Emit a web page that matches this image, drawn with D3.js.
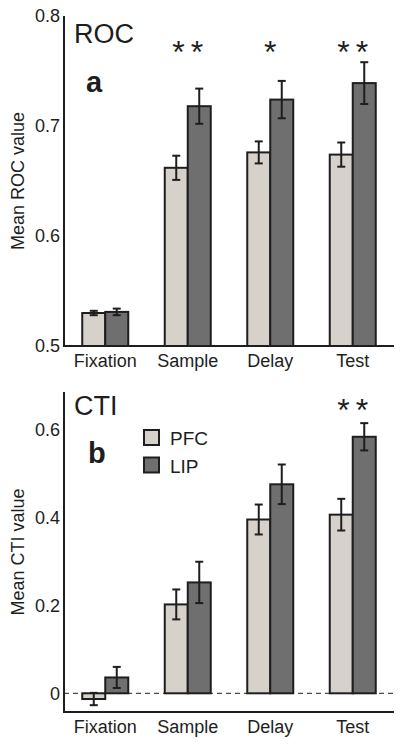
<!DOCTYPE html>
<html><head><meta charset="utf-8">
<script src="https://cdn.jsdelivr.net/npm/d3@7"></script>
<style>
html,body{margin:0;padding:0;background:#fff;}
svg{display:block;font-family:"Liberation Sans",Arial,sans-serif;}
</style></head>
<body>
<svg id="chart" width="417" height="750"></svg>
<script>
const categories = ['Fixation','Sample','Delay','Test'];
const series = ['PFC','LIP'];
const rocPFC = [0.530, 0.662, 0.676, 0.674];
const rocPFCErr = [0.002, 0.011, 0.010, 0.011];
const rocLIP = [0.531, 0.718, 0.724, 0.739];
const rocLIPErr = [0.003, 0.016, 0.017, 0.019];
const ctiPFC = [-0.013, 0.202, 0.395, 0.406];
const ctiPFCErr = [0.014, 0.034, 0.034, 0.036];
const ctiLIP = [0.036, 0.252, 0.475, 0.583];
const ctiLIPErr = [0.024, 0.047, 0.045, 0.031];
const rocTicks = [0.5, 0.6, 0.7, 0.8];
const rocTickLabels = ['0.5','0.6','0.7','0.8'];
const ctiTicks = [0, 0.2, 0.4, 0.6];
const ctiTickLabels = ['0','0.2','0.4','0.6'];
const rocStars = ['','**','*','**'];
const ctiStars = ['','','','**'];

const colors = {PFC:'#d6d1ca', LIP:'#6f6f6f'};
const ink = '#1e1e1e';
const svg = d3.select('#chart');

function panel(opt){
  const g = svg.append('g');
  const x = d3.scaleBand().domain(categories).range([64,394]).padding(0);
  const xs = d3.scaleBand().domain(series).range([-23,23]).padding(0);
  const y = d3.scaleLinear().domain(opt.yDomain).range(opt.yRange);
  const rows = [];
  categories.forEach((c,i)=>{
    rows.push({c, s:'PFC', v:opt.pfc[i], e:opt.pfcErr[i]});
    rows.push({c, s:'LIP', v:opt.lip[i], e:opt.lipErr[i]});
  });
  const cx = d => x(d.c) + x.bandwidth()/2 + xs(d.s);
  if(opt.zeroLine){
    g.append('line').attr('x1',64).attr('x2',394).attr('y1',y(0)).attr('y2',y(0))
      .attr('stroke',ink).attr('stroke-width',1).attr('stroke-dasharray','5,4');
  }
  g.selectAll('rect.bar').data(rows).enter().append('rect').attr('class','bar')
    .attr('x', d=>cx(d))
    .attr('width', xs.bandwidth())
    .attr('y', d=>Math.min(y(d.v), y(opt.base)))
    .attr('height', d=>Math.abs(y(d.v)-y(opt.base)))
    .attr('fill', d=>colors[d.s]).attr('stroke',ink).attr('stroke-width',2);
  const eb = g.selectAll('g.err').data(rows).enter().append('g').attr('class','err')
    .attr('stroke',ink).attr('stroke-width',2);
  const mx = d => cx(d)+xs.bandwidth()/2;
  eb.append('line').attr('x1',mx).attr('x2',mx)
    .attr('y1',d=>y(d.v-d.e)).attr('y2',d=>y(d.v+d.e));
  eb.append('line').attr('x1',d=>mx(d)-4).attr('x2',d=>mx(d)+4)
    .attr('y1',d=>y(d.v+d.e)).attr('y2',d=>y(d.v+d.e));
  eb.append('line').attr('x1',d=>mx(d)-4).attr('x2',d=>mx(d)+4)
    .attr('y1',d=>y(d.v-d.e)).attr('y2',d=>y(d.v-d.e));
  const yAxis = d3.axisLeft(y).tickValues(opt.ticks).tickFormat((d,i)=>opt.tickLabels[i]).tickSize(0).tickPadding(4);
  const ya = g.append('g').attr('transform','translate(64,0)').call(yAxis);
  ya.select('.domain').remove();
  ya.selectAll('text').attr('font-size',18).attr('fill',ink).attr('font-family','"Liberation Sans",Arial,sans-serif');
  g.append('line').attr('x1',64).attr('x2',64).attr('y1',opt.axisTop).attr('y2',opt.axisBottom+1)
    .attr('stroke',ink).attr('stroke-width',2);
  g.append('line').attr('x1',63).attr('x2',394).attr('y1',opt.axisBottom).attr('y2',opt.axisBottom)
    .attr('stroke',ink).attr('stroke-width',2);
  const xAxis = d3.axisBottom(x).tickSize(0).tickPadding(8);
  const xa = g.append('g').attr('transform',`translate(0,${opt.axisBottom})`).call(xAxis);
  xa.select('.domain').remove();
  xa.selectAll('text').attr('font-size',18).attr('fill',ink).attr('font-family','"Liberation Sans",Arial,sans-serif');
  g.append('text').attr('transform',`translate(24,${(opt.axisTop+opt.axisBottom)/2}) rotate(-90)`)
    .attr('text-anchor','middle').attr('font-size',18).attr('fill',ink).text(opt.yLabel);
  g.append('text').attr('x',74).attr('y',opt.titleY).attr('font-size',27).attr('fill',ink).text(opt.title);
  g.append('text').attr('x',opt.letterX).attr('y',opt.letterY).attr('font-size',29).attr('font-weight','bold').attr('fill',ink).text(opt.letter);
  g.selectAll('text.star').data(opt.stars).enter().append('text').attr('class','star')
    .attr('x',(d,i)=>x(categories[i])+x.bandwidth()/2 + 3)
    .attr('y',opt.starY).attr('text-anchor','middle').attr('font-size',32)
    .attr('letter-spacing',6).attr('fill',ink)
    .text(d=>d);
  return {g,x,y};
}

panel({pfc:rocPFC,pfcErr:rocPFCErr,lip:rocLIP,lipErr:rocLIPErr,
  yDomain:[0.5,0.8], yRange:[346,16], base:0.5, axisTop:16, axisBottom:346,
  ticks:rocTicks, tickLabels:rocTickLabels, yLabel:'Mean ROC value',
  title:'ROC', titleY:43, letter:'a', letterX:86, letterY:92, stars:rocStars, starY:63});

panel({pfc:ctiPFC,pfcErr:ctiPFCErr,lip:ctiLIP,lipErr:ctiLIPErr,
  yDomain:[0,0.6], yRange:[693.3,429.3], base:0, axisTop:392, axisBottom:712, zeroLine:true,
  ticks:ctiTicks, tickLabels:ctiTickLabels, yLabel:'Mean CTI value',
  title:'CTI', titleY:415, letter:'b', letterX:88, letterY:463, stars:ctiStars, starY:421});

const leg = svg.append('g');
series.forEach((s,i)=>{
  leg.append('rect').attr('x',144).attr('y',430+i*27.5).attr('width',15).attr('height',15)
    .attr('fill',colors[s]).attr('stroke',ink).attr('stroke-width',2);
  leg.append('text').attr('x',170).attr('y',445+i*27.5).attr('font-size',19).attr('fill',ink).text(s);
});
</script>
</body></html>
